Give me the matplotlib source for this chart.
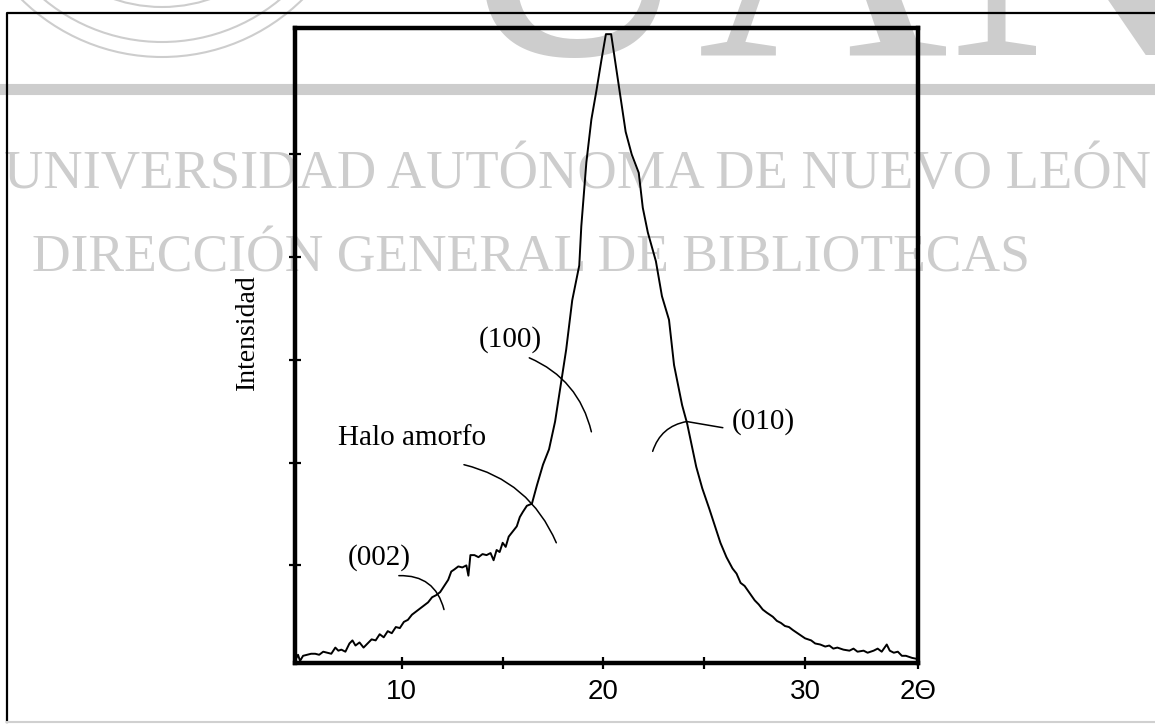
import matplotlib
matplotlib.use('Agg')
import matplotlib.pyplot as plt
from matplotlib.lines import Line2D
from matplotlib.patches import Ellipse

# ---------------- data ----------------
two_theta = [4.72, 4.85, 4.95, 5.1, 5.3, 5.5, 5.7, 5.9, 6.1, 6.3, 6.5, 6.7, 6.85, 7.0,
             7.2, 7.4, 7.55, 7.7, 7.9, 8.1, 8.3, 8.5, 8.7, 8.9, 9.1, 9.3, 9.5, 9.7,
             9.9, 10.1, 10.3, 10.5, 10.7, 10.9, 11.1, 11.3, 11.5, 11.7, 11.9, 12.1,
             12.3, 12.45, 12.6, 12.8, 13.0, 13.2, 13.3, 13.4, 13.6, 13.8, 14.0, 14.2,
             14.4, 14.55, 14.7, 14.85, 15.0, 15.15, 15.3, 15.5, 15.7, 15.85, 16.0,
             16.2, 16.45, 16.7, 17.0, 17.3, 17.6, 17.9, 18.15, 18.45, 18.8, 18.9,
             19.15, 19.4, 19.65, 19.9, 20.12, 20.38, 20.6, 20.85, 21.1, 21.4, 21.75,
             21.95, 22.2, 22.6, 22.9, 23.25, 23.5, 23.9, 24.15, 24.6, 24.9, 25.25,
             25.5, 25.8, 26.1, 26.4, 26.6, 26.8, 27.0, 27.25, 27.5, 27.7, 27.9, 28.1,
             28.4, 28.6, 28.8, 29.0, 29.2, 29.4, 29.7, 30.0, 30.3, 30.5, 30.75, 31.0,
             31.2, 31.4, 31.6, 31.9, 32.2, 32.4, 32.6, 32.9, 33.1, 33.4, 33.6, 33.8,
             34.05, 34.2, 34.4, 34.6, 34.8, 35.0, 35.3, 35.55]
intensity = [0.08, 0.13, 0.07, 0.12, 0.13, 0.14, 0.14, 0.13, 0.16, 0.15, 0.14, 0.20,
             0.17, 0.18, 0.16, 0.24, 0.27, 0.22, 0.25, 0.20, 0.24, 0.28, 0.27, 0.33,
             0.30, 0.36, 0.34, 0.40, 0.39, 0.45, 0.47, 0.52, 0.55, 0.58, 0.61, 0.64,
             0.69, 0.71, 0.74, 0.80, 0.86, 0.94, 0.96, 0.99, 0.98, 1.00, 0.90, 1.10,
             1.10, 1.08, 1.11, 1.10, 1.12, 1.05, 1.15, 1.13, 1.22, 1.18, 1.28, 1.33,
             1.38, 1.47, 1.52, 1.58, 1.60, 1.78, 1.98, 2.13, 2.40, 2.78, 3.10, 3.58,
             3.92, 4.30, 4.92, 5.34, 5.62, 5.92, 6.17, 6.17, 5.88, 5.55, 5.22, 5.00,
             4.82, 4.48, 4.24, 3.96, 3.62, 3.39, 2.95, 2.56, 2.38, 1.96, 1.75, 1.55,
             1.40, 1.22, 1.08, 0.97, 0.92, 0.83, 0.80, 0.73, 0.66, 0.62, 0.57, 0.54,
             0.50, 0.46, 0.44, 0.41, 0.40, 0.37, 0.33, 0.29, 0.27, 0.24, 0.23, 0.21,
             0.22, 0.19, 0.20, 0.18, 0.17, 0.19, 0.16, 0.17, 0.15, 0.17, 0.19, 0.16,
             0.23, 0.17, 0.15, 0.16, 0.12, 0.12, 0.10, 0.09]

x_ticks = [10, 15, 20, 25, 30, 35.6]
x_tick_labels = ['10', '', '20', '', '30', '2\u0398']
y_ticks = [1, 2, 3, 4, 5]
y_label = 'Intensidad'
peak_labels = ['(002)', 'Halo amorfo', '(100)', '(010)']
watermark_lines = ['UNIVERSIDAD AUTÓNOMA DE NUEVO LEÓN',
                   'DIRECCIÓN GENERAL DE BIBLIOTECAS', 'UANL']

serif = 'Liberation Serif'
sans = 'Liberation Sans'

W, H = 1155, 726
fig = plt.figure(figsize=(W / 100, H / 100), dpi=100)
fig.patch.set_facecolor('white')


def fx(px):
    return px / W


def fy(py):
    return 1 - py / H


# ---------------- watermark (behind) ----------------
wm = '#cdcdcd'
t1 = fig.text(fx(577), fy(188), watermark_lines[0], ha='center', va='baseline',
              fontsize=40, family=serif, color=wm, zorder=0)
t2 = fig.text(fx(531), fy(272), watermark_lines[1], ha='center', va='baseline',
              fontsize=40, family=serif, color=wm, zorder=0)
fig.text(fx(930), fy(55), watermark_lines[2], ha='center', va='baseline',
         fontsize=250, family=serif, color=wm, zorder=0)
fig.add_artist(Line2D([0, 1], [fy(89), fy(89)], transform=fig.transFigure,
                      color=wm, lw=8, zorder=0))
for r in (200, 185, 150):
    fig.add_artist(Ellipse((fx(162), fy(-143)), 2 * r / W, 2 * r / H,
                           transform=fig.transFigure, fill=False, ec=wm, lw=1.5,
                           zorder=0))

fig.canvas.draw()
rend = fig.canvas.get_renderer()
for t, target in ((t1, 1146), (t2, 997)):
    w = t.get_window_extent(rend).width
    t.set_fontsize(t.get_fontsize() * target / w)

# ---------------- outer frame ----------------
fig.add_artist(Line2D([fx(7), fx(7), 1], [fy(722), fy(13), fy(13)],
                      transform=fig.transFigure, color='black', lw=1.6, zorder=2))
fig.add_artist(Line2D([fx(7), 1], [fy(722), fy(722)], transform=fig.transFigure,
                      color='#d0d0d0', lw=1.5, zorder=2))

# ---------------- axes ----------------
ax = fig.add_axes([fx(295), fy(663), (918 - 295) / W, (663 - 28) / H])
ax.set_zorder(3)
ax.patch.set_alpha(0)
ax.plot(two_theta, intensity, color='black', lw=1.4)
ax.set_xlim(4.7, 35.6)
ax.set_ylim(0.05, 6.23)
ax.set_xticks(x_ticks)
ax.set_xticklabels(x_tick_labels, family=sans, fontsize=20)
ax.set_yticks(y_ticks)
ax.set_yticklabels([])
ax.tick_params(axis='both', direction='inout', length=9, width=1.6, color='black')
ax.tick_params(axis='x', pad=7)
for s in ax.spines.values():
    s.set_linewidth(3.2)
ax.set_ylabel(y_label, family=serif, fontsize=20)
ax.yaxis.set_label_coords(-0.077, 0.521)
ax.yaxis.label.set_va('center')

lw_lead = 1.1
# (002)
ax.text(8.86, 1.08, peak_labels[0], family=serif, fontsize=21, ha='center', va='center')
ax.annotate('', xy=(12.09, 0.57), xytext=(9.85, 0.90),
            arrowprops=dict(arrowstyle='-', lw=lw_lead, color='black',
                            connectionstyle='arc3,rad=-0.4', shrinkA=0, shrinkB=0))
# Halo amorfo
ax.text(6.85, 2.24, peak_labels[1], family=serif, fontsize=21, ha='left', va='center')
ax.annotate('', xy=(17.66, 1.22), xytext=(13.08, 1.98),
            arrowprops=dict(arrowstyle='-', lw=lw_lead, color='black',
                            connectionstyle='arc3,rad=-0.25', shrinkA=0, shrinkB=0))
# (100)
ax.text(15.37, 3.2, peak_labels[2], family=serif, fontsize=21, ha='center', va='center')
ax.annotate('', xy=(19.40, 2.30), xytext=(16.32, 3.02),
            arrowprops=dict(arrowstyle='-', lw=lw_lead, color='black',
                            connectionstyle='arc3,rad=-0.25', shrinkA=0, shrinkB=0))
# (010)
ax.text(27.91, 2.40, peak_labels[3], family=serif, fontsize=21, ha='center', va='center')
ax.annotate('', xy=(24.13, 2.40), xytext=(22.44, 2.11),
            arrowprops=dict(arrowstyle='-', lw=lw_lead, color='black',
                            connectionstyle='arc3,rad=-0.3', shrinkA=0, shrinkB=0))
ax.annotate('', xy=(25.92, 2.34), xytext=(24.13, 2.40),
            arrowprops=dict(arrowstyle='-', lw=lw_lead, color='black',
                            connectionstyle='arc3,rad=0.0', shrinkA=0, shrinkB=0))

fig.savefig('out.png', dpi=100)
